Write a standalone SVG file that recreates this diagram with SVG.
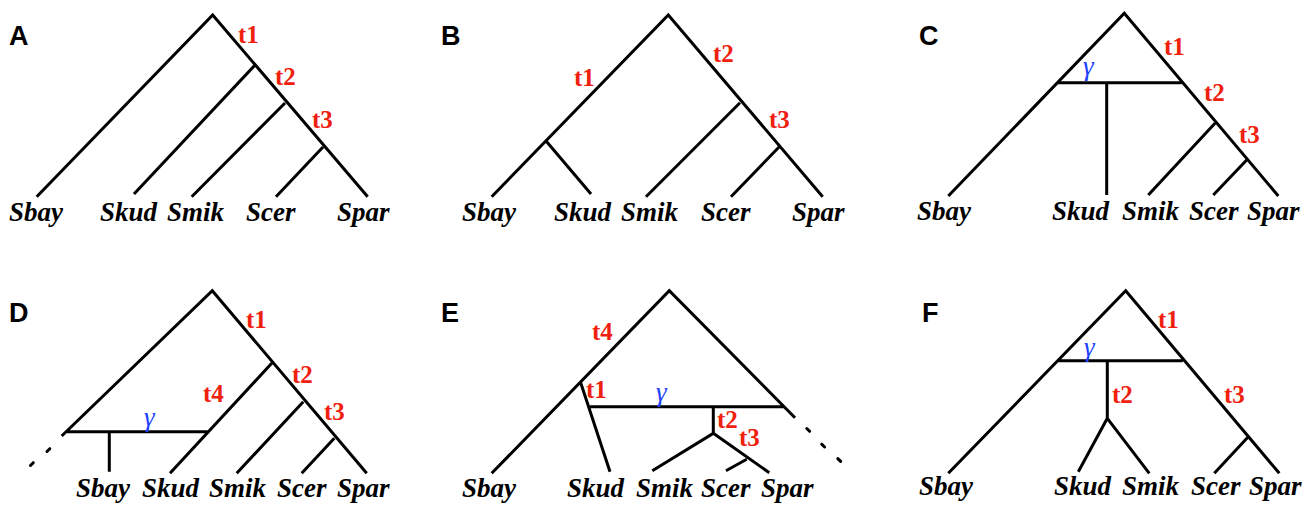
<svg xmlns="http://www.w3.org/2000/svg" width="1315" height="505" viewBox="0 0 1315 505">
<style>
.e{stroke:#000;stroke-width:3;fill:none;stroke-linecap:butt}
.d{stroke:#000;stroke-width:3;stroke-linecap:round}
.p{font-family:"Liberation Sans",Arial,sans-serif;font-weight:bold;font-size:27px;fill:#000}
.s{font-family:"Liberation Serif","Times New Roman","DejaVu Serif",serif;font-weight:bold;font-style:italic;font-size:27px;fill:#000}
.t{font-family:"Liberation Serif","Times New Roman","DejaVu Serif",serif;font-weight:bold;font-size:25px;fill:#f0200f}
.g{font-family:"Liberation Serif","Times New Roman","DejaVu Serif",serif;font-style:italic;font-size:27px;fill:#2040ff}
</style>
<rect width="1315" height="505" fill="#fff"/>
<g id="connectors">
<path class="e" d="M36.7,196.7 L212.7,15 L367.7,196.7 M255,65 L134,194 M285,103 L191.7,196.7 M323,147 L276,196.7"/>
<path class="e" d="M491.7,196.7 L668.3,15 L822.7,196.7 M546.7,141.7 L591,194 M740,102.7 L646,196.7 M779.3,146.7 L731,196.7"/>
<path class="e" d="M948.3,196 L1124.3,13.3 L1278.3,196 M1056.7,82.7 L1181.7,82.7 M1106.7,82.7 L1106.7,195 M1215,123.3 L1148.3,195 M1246.7,160 L1213.3,195"/>
<path class="e" d="M61.7,436 L212.3,290.7 L366.7,473.3 M67,431.7 L207.3,431.7 M109.3,431.7 L109.3,471.7 M271.7,363.3 L170,473.3 M303.3,401.7 L236.7,473.3 M334.3,438.3 L301.7,473.3"/>
<line class="d" x1="47" y1="451.5" x2="49.8" y2="448.7"/>
<line class="d" x1="30.5" y1="465.5" x2="33.3" y2="462.7"/>
<path class="e" d="M491.7,473.3 L669.3,290.7 L795,417.7 M580.7,382.7 L610,471.7 M590,406.7 L783.3,406.7 M713.3,406.7 L713.3,433.3 L652.3,470.7 M713.3,433.3 L769.3,472.7 M746.7,459.3 L726,470.7"/>
<line class="d" x1="806.8" y1="428.5" x2="809.6" y2="431.3"/>
<line class="d" x1="821.8" y1="444.2" x2="824.6" y2="447"/>
<line class="d" x1="837.8" y1="458.6" x2="840.6" y2="461.4"/>
<path class="e" d="M948.3,473.3 L1125.7,290.7 L1279.3,473.3 M1058.3,360.7 L1182.7,360.7 M1107.3,360.7 L1107.3,418.3 L1078.3,471.7 M1107.3,418.3 L1149.3,473.3 M1248.3,436.7 L1214.3,473.3"/>
</g>
<g id="panelA">
<text class="p" x="9" y="45">A</text>
<text class="t" x="238" y="43">t1</text>
<text class="t" x="275" y="85">t2</text>
<text class="t" x="312" y="128">t3</text>
<text class="s" x="9" y="221">Sbay</text>
<text class="s" x="100" y="221">Skud</text>
<text class="s" x="167" y="221">Smik</text>
<text class="s" x="246" y="221">Scer</text>
<text class="s" x="337" y="221">Spar</text>
</g>
<g id="panelB">
<text class="p" x="441" y="45">B</text>
<text class="t" x="574" y="86">t1</text>
<text class="t" x="713" y="62">t2</text>
<text class="t" x="769" y="128">t3</text>
<text class="s" x="462" y="221">Sbay</text>
<text class="s" x="554" y="221">Skud</text>
<text class="s" x="621" y="221">Smik</text>
<text class="s" x="701" y="221">Scer</text>
<text class="s" x="792" y="221">Spar</text>
</g>
<g id="panelC">
<text class="p" x="919" y="45">C</text>
<text class="g" x="1083" y="75">γ</text>
<text class="t" x="1164" y="55">t1</text>
<text class="t" x="1204" y="101">t2</text>
<text class="t" x="1239" y="143">t3</text>
<text class="s" x="917" y="220">Sbay</text>
<text class="s" x="1052" y="220">Skud</text>
<text class="s" x="1122" y="220">Smik</text>
<text class="s" x="1189" y="220">Scer</text>
<text class="s" x="1247" y="220">Spar</text>
</g>
<g id="panelD">
<text class="p" x="9" y="322">D</text>
<text class="g" x="144" y="426">γ</text>
<text class="t" x="246" y="328">t1</text>
<text class="t" x="292" y="383">t2</text>
<text class="t" x="324" y="420">t3</text>
<text class="t" x="203" y="402">t4</text>
<text class="s" x="76" y="497">Sbay</text>
<text class="s" x="142" y="497">Skud</text>
<text class="s" x="209" y="497">Smik</text>
<text class="s" x="277" y="497">Scer</text>
<text class="s" x="337" y="497">Spar</text>
</g>
<g id="panelE">
<text class="p" x="441" y="322">E</text>
<text class="g" x="656" y="401">γ</text>
<text class="t" x="592" y="340">t4</text>
<text class="t" x="586" y="398">t1</text>
<text class="t" x="717" y="428">t2</text>
<text class="t" x="739" y="446">t3</text>
<text class="s" x="462" y="497">Sbay</text>
<text class="s" x="567" y="497">Skud</text>
<text class="s" x="636" y="497">Smik</text>
<text class="s" x="701" y="497">Scer</text>
<text class="s" x="761" y="497">Spar</text>
</g>
<g id="panelF">
<text class="p" x="922" y="322">F</text>
<text class="g" x="1084" y="356">γ</text>
<text class="t" x="1158" y="328">t1</text>
<text class="t" x="1112" y="403">t2</text>
<text class="t" x="1224" y="403">t3</text>
<text class="s" x="919" y="495">Sbay</text>
<text class="s" x="1054" y="495">Skud</text>
<text class="s" x="1122" y="495">Smik</text>
<text class="s" x="1191" y="495">Scer</text>
<text class="s" x="1249" y="495">Spar</text>
</g>
</svg>
